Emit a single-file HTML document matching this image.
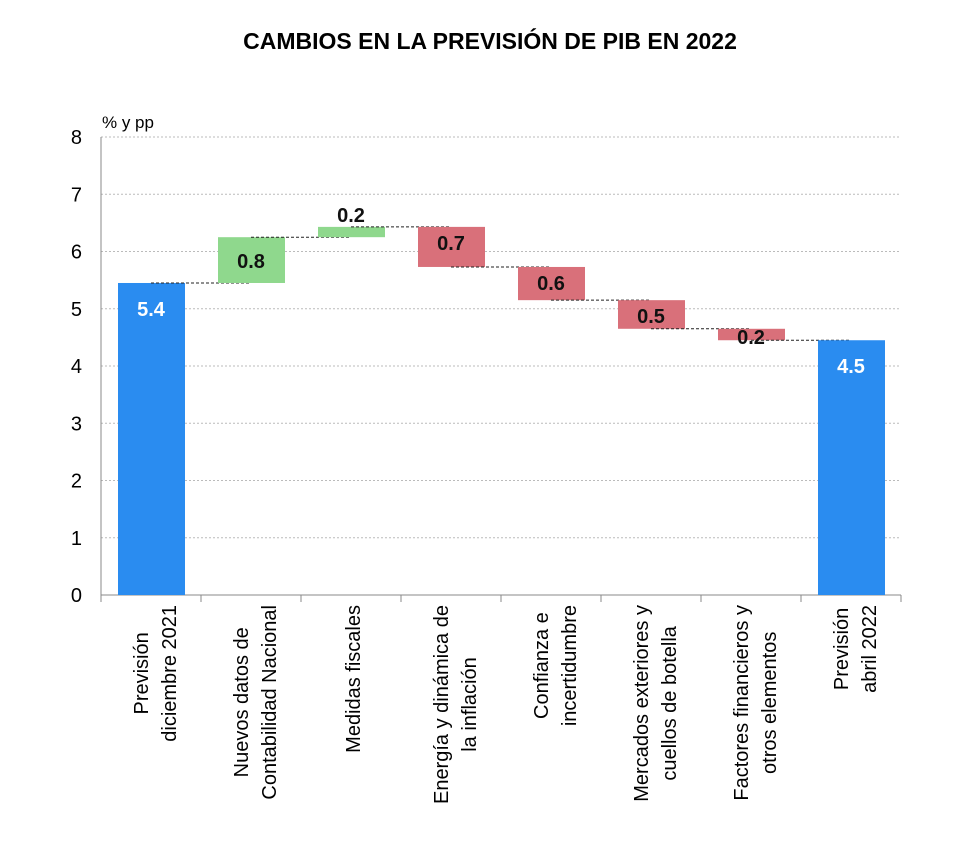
<!DOCTYPE html>
<html><head><meta charset="utf-8"><style>
body{margin:0;background:#fff;}
svg{display:block;font-family:"Liberation Sans",Arial,sans-serif;}
</style></head><body>
<svg id="chart" width="975" height="841">
<text x="490" y="49" text-anchor="middle" font-size="23" font-weight="bold">CAMBIOS EN LA PREVISIÓN DE PIB EN 2022</text>
<text x="102" y="128" font-size="17">% y pp</text>
<g id="grid"></g><g id="bars"></g><g id="labels"></g>
</svg>
<script>
const categories=[["Previsión","diciembre 2021"],["Nuevos datos de","Contabilidad Nacional"],["Medidas fiscales"],["Energía y dinámica de","la inflación"],["Confianza e","incertidumbre"],["Mercados exteriores y","cuellos de botella"],["Factores financieros y","otros elementos"],["Previsión","abril 2022"]];
const startValue=5.45;
const deltas=[0.8,0.18,-0.7,-0.58,-0.5,-0.2];
const endValue=4.45;
const printed=["5.4","0.8","0.2","0.7","0.6","0.5","0.2","4.5"];
const yTicks=[0,1,2,3,4,5,6,7,8];
const NS="http://www.w3.org/2000/svg";
const x0=101,x1=901,bw=100;
const y=v=>595-v*57.25;
const cx=i=>x0+bw*i+bw/2;
function mk(t,a,p){const e=document.createElementNS(NS,t);for(const k in a)e.setAttribute(k,a[k]);p.appendChild(e);return e;}
const grid=document.getElementById('grid'),bars=document.getElementById('bars'),lab=document.getElementById('labels');
yTicks.forEach(t=>{
 if(t>0){const l=mk('line',{x1:x0,x2:x1,y1:y(t),y2:y(t),stroke:'#bbb','stroke-dasharray':'2,2'},grid);
 
 }
 const tx=mk('text',{x:82,y:y(t)+7,'text-anchor':'end','font-size':20},grid);tx.textContent=t;
 
 
});
const ax=mk('line',{x1:x0,x2:x0,y1:y(8),y2:595,stroke:'#888'},grid);


const xa=mk('line',{x1:x0,x2:x1,y1:595,y2:595,stroke:'#888'},grid);


for(let i=0;i<=categories.length;i++){const tk=mk('line',{x1:x0+bw*i,x2:x0+bw*i,y1:595,y2:602,stroke:'#888'},grid);
 
 }
const levels=[startValue];deltas.forEach(d=>levels.push(levels[levels.length-1]+d));
function bar(i,lo,hi,fill,name){const r=mk('rect',{x:cx(i)-33,width:67,y:y(hi),height:y(lo)-y(hi),fill:fill},bars);
 
 }
function vlab(i,yy,txt,col){const t=mk('text',{x:cx(i),y:yy,'text-anchor':'middle','font-size':20,'font-weight':'bold',fill:col},lab);t.textContent=txt;
 
 }
function conn(i,v){const l=mk('line',{x1:cx(i),x2:cx(i+1),y1:y(v),y2:y(v),stroke:'#222','stroke-dasharray':'3,2'},bars);
 
 }
bar(0,0,startValue,'#2a8cf0','bar-start');
vlab(0,y(startValue)+33,printed[0],'#fff');
deltas.forEach((d,k)=>{const i=k+1,a=levels[k],b=levels[k+1];
 conn(k,a);
 bar(i,Math.min(a,b),Math.max(a,b),d>0?'#8fd88d':'#d9707a',d>0?'bar-increase':'bar-decrease');
 const top=y(Math.max(a,b)),h=Math.abs(y(a)-y(b));
 let ly=h>25?(d>0?top+h/2+8:top+23):(d>0?top-5:top+15);
 vlab(i,ly,printed[i],'#111');
});
conn(6,levels[6]);
bar(7,0,endValue,'#2a8cf0','bar-end');
vlab(7,y(endValue)+33,printed[7],'#fff');
categories.forEach((c,i)=>{
 const n=c.length;
 const els=c.map((line,j)=>{
  const bx=cx(i)+(n===1?9:(j===0?-3:25));
  const t=mk('text',{x:bx,y:605,'text-anchor':'middle','font-size':20},lab);
  t.textContent=line;
  
  
  return [t,bx];
 });
 let L=0;els.forEach(([t])=>{L=Math.max(L,t.getComputedTextLength());});
 const cy=605+L/2;
 els.forEach(([t,bx])=>{t.setAttribute('y',cy);t.setAttribute('transform',`rotate(-90 ${bx} ${cy})`);});
});
</script>
</body></html>
